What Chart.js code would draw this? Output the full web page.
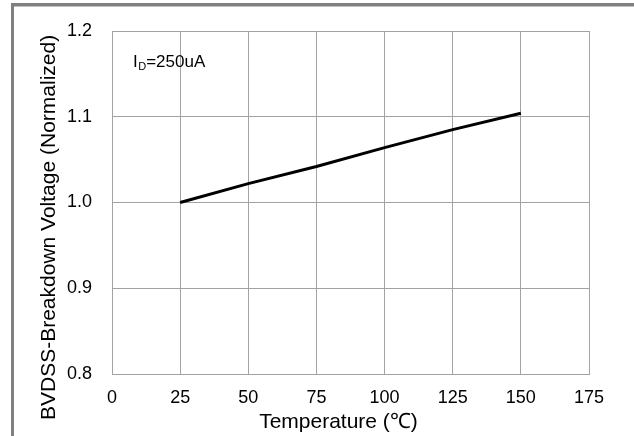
<!DOCTYPE html>
<html>
<head>
<meta charset="utf-8">
<script src="https://cdn.jsdelivr.net/npm/chart.js@4"></script>
<style>
  html, body { margin: 0; padding: 0; background: #fff; }
  #wrap { width: 634px; height: 436px; }
</style>
</head>
<body>
<div id="wrap"><canvas id="c" width="634" height="436"></canvas></div>
<script>
// ---- data ----
const temperatures = [25, 50, 75, 100, 125, 150];
const bvdssNormalized = [1.000, 1.022, 1.042, 1.064, 1.085, 1.104];
const xTicks = [0, 25, 50, 75, 100, 125, 150, 175];
const yTicks = [0.8, 0.9, 1.0, 1.1, 1.2];
const xTitle = 'Temperature (\u2103)';
const yTitle = 'BVDSS-Breakdown Voltage (Normalized)';
const noteMain = 'I';
const noteSub = 'D';
const noteRest = '=250uA';

const FONT = '"Liberation Sans", Arial, Helvetica, sans-serif';
const GRID = '#a3a3a3';

const decor = {
  id: 'decor',
  beforeDraw(chart) {
    const ctx = chart.ctx;
    ctx.save();
    ctx.fillStyle = '#ffffff';
    ctx.fillRect(0, 0, chart.width, chart.height);
    ctx.fillStyle = '#808080';
    ctx.fillRect(11, 3, chart.width - 11, 3.5);
    ctx.fillRect(11, 3, 3, chart.height - 3);
    ctx.restore();
  },
  afterDraw(chart) {
    const ctx = chart.ctx;
    const a = chart.chartArea;
    ctx.save();
    ctx.fillStyle = '#000';
    // x title
    ctx.font = '21px ' + FONT;
    ctx.textAlign = 'center';
    ctx.textBaseline = 'alphabetic';
    ctx.fillText(xTitle, (a.left + a.right) / 2 - 12, a.bottom + 54);
    // y title
    ctx.save();
    ctx.translate(55, a.bottom + 46);
    ctx.rotate(-Math.PI / 2);
    ctx.textAlign = 'left';
    ctx.font = '21px ' + FONT;
    ctx.fillText(yTitle, 0, 0);
    ctx.restore();
    // annotation
    let x = a.left + 21;
    const base = a.top + 36;
    ctx.textAlign = 'left';
    ctx.font = '17px ' + FONT;
    ctx.fillText(noteMain, x, base);
    x += ctx.measureText(noteMain).width + 0.5;
    ctx.font = '11px ' + FONT;
    ctx.fillText(noteSub, x, base + 3);
    x += ctx.measureText(noteSub).width;
    ctx.font = '17px ' + FONT;
    ctx.fillText(noteRest, x, base);
    ctx.restore();
  }
};

new Chart(document.getElementById('c'), {
  type: 'line',
  data: {
    datasets: [{
      data: temperatures.map((t, i) => ({ x: t, y: bvdssNormalized[i] })),
      borderColor: '#000',
      borderWidth: 3,
      pointRadius: 0,
      tension: 0,
      fill: false
    }]
  },
  options: {
    responsive: false,
    devicePixelRatio: 1,
    animation: false,
    layout: { padding: { left: 0, top: 31, right: 45, bottom: 0 } },
    plugins: { legend: { display: false }, tooltip: { enabled: false } },
    scales: {
      x: {
        type: 'linear',
        min: 0, max: 175,
        afterBuildTicks: s => { s.ticks = xTicks.map(v => ({ value: v })); },
        afterFit: s => { s.height = 62; },
        grid: { color: GRID, lineWidth: 1, drawTicks: false },
        border: { color: GRID, width: 1 },
        ticks: { color: '#000', padding: 13, maxRotation: 0, autoSkip: false,
                 font: { family: FONT, size: 18 } },
        title: { display: false }
      },
      y: {
        type: 'linear',
        min: 0.8, max: 1.2,
        afterBuildTicks: s => { s.ticks = yTicks.map(v => ({ value: v })); },
        afterFit: s => { s.width = 112; },
        grid: { color: GRID, lineWidth: 1, drawTicks: false },
        border: { color: GRID, width: 1 },
        ticks: { color: '#000', padding: 20, autoSkip: false,
                 font: { family: FONT, size: 18 },
                 callback: v => Number(v).toFixed(1) },
        title: { display: false }
      }
    }
  },
  plugins: [decor]
});
</script>
</body>
</html>
